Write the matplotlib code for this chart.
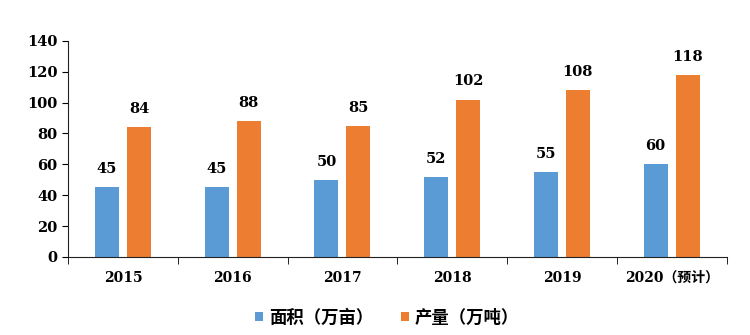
import matplotlib
matplotlib.use("Agg")
import matplotlib.pyplot as plt
import numpy as np

years = ["2015", "2016", "2017", "2018", "2019", "2020（预计）"]
area = [45, 45, 50, 52, 55, 60]          # 面积（万亩）
output = [84, 88, 85, 102, 108, 118]     # 产量（万吨）

series_names = ["面积（万亩）", "产量（万吨）"]
colors = ["#5B9BD5", "#ED7D31"]

fam = ["DejaVu Serif", "Noto Sans CJK SC"]
plt.rcParams["font.family"] = fam

fig = plt.figure(figsize=(7.5, 3.35), dpi=100)
ax = fig.add_axes([0.0907, 0.233, 0.878, 0.645])

x = np.arange(len(years))
w = 0.22
off = 0.146
b1 = ax.bar(x - off, area, w, color=colors[0], label=series_names[0])
b2 = ax.bar(x + off, output, w, color=colors[1], label=series_names[1])

for bars, vals in ((b1, area), (b2, output)):
    for r, v in zip(bars, vals):
        ax.annotate(f"{v}", (r.get_x() + r.get_width() / 2, v),
                    xytext=(0, 8), textcoords="offset points",
                    ha="center", va="bottom", fontsize=10.5,
                    fontweight="bold", family=fam)

ax.set_xlim(-0.5, len(years) - 0.5)
ax.set_ylim(0, 140)
ax.set_yticks(range(0, 141, 20))
ax.tick_params(axis="y", labelsize=10.5, length=4, direction="out")
for t in ax.get_yticklabels():
    t.set_fontweight("bold")

ax.set_xticks(x)
ax.set_xticklabels(years, fontsize=10, fontweight="bold")
ax.tick_params(axis="x", length=0, pad=10)
ax.set_xticks(np.arange(-0.5, len(years), 1), minor=True)
ax.tick_params(axis="x", which="minor", length=5, direction="out")

for s in ("top", "right"):
    ax.spines[s].set_visible(False)
ax.spines["left"].set_color("#222222")
ax.spines["bottom"].set_color("#222222")

leg = fig.legend(handles=[b1, b2], loc="center", bbox_to_anchor=(0.516, 0.05),
                 ncol=2, frameon=False, handlelength=0.45,
                 handleheight=0.45, handletextpad=0.35, columnspacing=1.6,
                 prop={"family": fam, "weight": "bold", "size": 12.5})

fig.savefig("out.png", dpi=100)
